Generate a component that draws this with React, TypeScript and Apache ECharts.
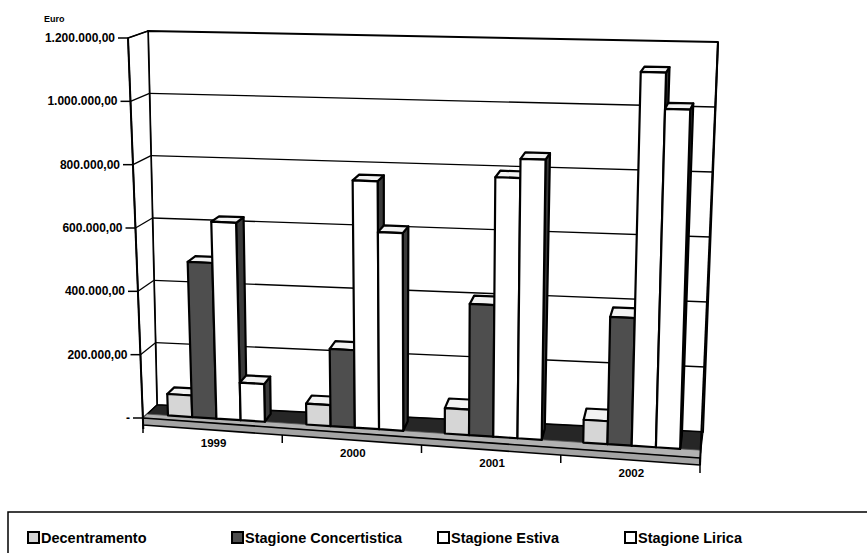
import React, { useEffect, useRef } from 'react';
import * as echarts from 'echarts';

const categories = ['1999', '2000', '2001', '2002'];
const seriesNames = ['Decentramento', 'Stagione Concertistica', 'Stagione Estiva', 'Stagione Lirica'];
const decentramento = [68000, 65000, 78000, 69000];
const concertistica = [490000, 240000, 402000, 384000];
const estiva = [620000, 767000, 793000, 1126000];
const lirica = [118000, 610000, 852000, 1017000];
const yTicks = [0, 200000, 400000, 600000, 800000, 1000000, 1200000];
const Y_MAX = 1200000;

const seriesValues = [decentramento, concertistica, estiva, lirica];
const frontFills = ['#d6d6d6', '#4e4e4e', '#ffffff', '#ffffff'];

// perspective frame (layout only)
type P = [number, number];
const FRONT = { lt: [128, 38] as P, lb: [143, 418] as P, rt: [712, 52] as P, rb: [700, 458] as P };
const BACK = { lt: [148, 31] as P, lb: [157, 405] as P, rt: [718, 42] as P, rb: [703, 432] as P };
const D0 = 0.3;
const D1 = 0.8;
const BAR_START = 0.15;
const BAR_W = 0.175;
const BAND = 7;
const FONT = '"Liberation Sans", Arial, Helvetica, sans-serif';

function lerp(a: P, b: P, t: number): P {
  return [a[0] + (b[0] - a[0]) * t, a[1] + (b[1] - a[1]) * t];
}
function plane(pl: any, u: number, v: number): P {
  const b = lerp(pl.lb, pl.rb, u);
  const t = lerp(pl.lt, pl.rt, u);
  return lerp(b, t, v);
}
function proj(u: number, v: number, d: number): P {
  return lerp(plane(FRONT, u, v), plane(BACK, u, v), d);
}
function fmt(v: number): string {
  if (v === 0) return '-';
  return Math.round(v).toString().replace(/\B(?=(\d{3})+(?!\d))/g, '.') + ',00';
}

function frameRender(params: any, api: any) {
  const cs = params.coordSys;
  const toV = (val: number) => (cs.y + cs.height - api.coord([0, val])[1]) / cs.height;
  const toU = (i: number) => (api.coord([i, 0])[0] - cs.x) / cs.width;
  const band = api.size([1, 0])[0] / cs.width;
  const children: any[] = [];
  const poly = (pts: P[], fill: string, lw = 1.5, stroke = '#000') =>
    children.push({ type: 'polygon', shape: { points: pts }, style: { fill, stroke, lineWidth: lw, lineJoin: 'round' } });
  const line = (a: P, b: P, lw = 1.3) =>
    children.push({ type: 'line', shape: { x1: a[0], y1: a[1], x2: b[0], y2: b[1] }, style: { stroke: '#000', lineWidth: lw } });

  // back wall
  poly([proj(0, 0, 1), proj(0, 1, 1), proj(1, 1, 1), proj(1, 0, 1)], '#ffffff', 2);
  // left side wall
  poly([proj(0, 0, 0), proj(0, 1, 0), proj(0, 1, 1), proj(0, 0, 1)], '#ffffff', 1.5);
  // gridlines
  yTicks.forEach((t) => {
    const v = toV(t);
    if (t > 0 && t < Y_MAX) {
      line(proj(0, v, 1), proj(1, v, 1), 1.3);
    }
    if (t > 0) line(proj(0, v, 0), proj(0, v, 1), 1.3);
  });
  // floor top: dark behind, light strip in front
  poly([proj(0, 0, 0), proj(1, 0, 0), proj(1, 0, 1), proj(0, 0, 1)], '#262626', 1.2);
  poly([proj(0, 0, 0), proj(1, 0, 0), proj(1, 0, D0), proj(0, 0, D0)], '#b2b2b2', 0.8, '#555');
  // floor front band
  const a = proj(0, 0, 0);
  const b = proj(1, 0, 0);
  poly([a, b, [b[0], b[1] + BAND], [a[0], a[1] + BAND]], '#a4a4a4', 1.6);
  // right edge
  line(proj(1, 1, 1), [b[0], b[1] + BAND], 2);
  // left axis line
  line(proj(0, 1, 0), [a[0] + 0.3, a[1] + BAND + 4], 2);
  // y ticks & labels
  yTicks.forEach((t) => {
    const v = toV(t);
    const p = proj(0, v, 0);
    line([p[0] - 10, p[1]], p, 1.5);
    children.push({
      type: 'text',
      x: p[0] - 13,
      y: p[1],
      style: { text: fmt(t), fill: '#000', font: `bold 12px ${FONT}`, align: 'right', verticalAlign: 'middle' },
    });
  });
  // x ticks
  for (let i = 0; i <= categories.length; i++) {
    const u = i === categories.length ? 1 : toU(i) - band / 2;
    const p = proj(u, 0, 0);
    line([p[0], p[1] + BAND], [p[0], p[1] + BAND + 8], 1.5);
  }
  // x labels
  categories.forEach((c, i) => {
    const p = proj(toU(i), 0, 0);
    children.push({
      type: 'text',
      x: p[0] + 1,
      y: p[1] + 20,
      style: { text: c, fill: '#000', font: `bold 11.5px ${FONT}`, align: 'center', verticalAlign: 'middle' },
    });
  });
  return { type: 'group', children };
}

function barRender(j: number) {
  return (params: any, api: any) => {
    const cs = params.coordSys;
    const idx = api.value(0);
    const val = api.value(1);
    const p = api.coord([idx, val]);
    const band = api.size([1, 0])[0] / cs.width;
    const uc = (p[0] - cs.x) / cs.width;
    const v = (cs.y + cs.height - p[1]) / cs.height;
    const u0 = uc - band / 2 + band * (BAR_START + BAR_W * j);
    const u1 = u0 + band * BAR_W;
    const st = (fill: string) => ({ fill, stroke: '#000', lineWidth: 2.2, lineJoin: 'round' });
    return {
      type: 'group',
      children: [
        { type: 'polygon', shape: { points: [proj(u1, 0, D0), proj(u1, 0, D1), proj(u1, v, D1), proj(u1, v, D0)] }, style: st('#3a3a3a') },
        { type: 'polygon', shape: { points: [proj(u0, v, D0), proj(u1, v, D0), proj(u1, v, D1), proj(u0, v, D1)] }, style: st('#f2f2f2') },
        { type: 'polygon', shape: { points: [proj(u0, 0, D0), proj(u1, 0, D0), proj(u1, v, D0), proj(u0, v, D0)] }, style: st(frontFills[j]) },
      ],
    };
  };
}

const legendLefts = [27, 231, 437, 624];

export default function App() {
  const ref = useRef<HTMLDivElement>(null);
  useEffect(() => {
    document.body.style.margin = '0';
    const chart = echarts.init(ref.current!, undefined, { renderer: 'svg' });
    const option: any = {
      animation: false,
      backgroundColor: '#ffffff',
      grid: { left: 143, top: 38, width: 557, height: 380 },
      xAxis: { type: 'category', data: categories, show: false },
      yAxis: { type: 'value', min: 0, max: Y_MAX, interval: 200000, show: false },
      legend: seriesNames.map((n, j) => ({
        left: legendLefts[j],
        top: 530,
        padding: 0,
        itemWidth: 11,
        itemHeight: 11,
        selectedMode: false,
        textStyle: { fontFamily: FONT, fontSize: 14.5, fontWeight: 'bold', color: '#000', padding: [0, 0, 0, -3] },
        data: [{ name: n, icon: 'rect', itemStyle: { color: frontFills[j], borderColor: '#000', borderWidth: 2 } }],
      })),
      graphic: [
        { type: 'text', left: 44, top: 14, style: { text: 'Euro', font: `bold 9px ${FONT}`, fill: '#000' } },
        { type: 'rect', shape: { x: 8, y: 512, width: 880, height: 60 }, style: { fill: 'none', stroke: '#000', lineWidth: 1.5 } },
      ],
      series: [
        {
          type: 'custom',
          name: 'frame',
          silent: true,
          renderItem: frameRender,
          data: [[0, 0]],
          z: 1,
        },
        ...seriesNames.map((n, j) => ({
          type: 'custom',
          name: n,
          renderItem: barRender(j),
          itemStyle: { color: frontFills[j], borderColor: '#000', borderWidth: 2 },
          data: seriesValues[j].map((val, i) => [i, val]),
          encode: { x: 0, y: 1 },
          z: 2,
        })),
      ],
    };
    chart.setOption(option);
    return () => chart.dispose();
  }, []);
  return <div ref={ref} style={{ width: 867, height: 553 }} />;
}
